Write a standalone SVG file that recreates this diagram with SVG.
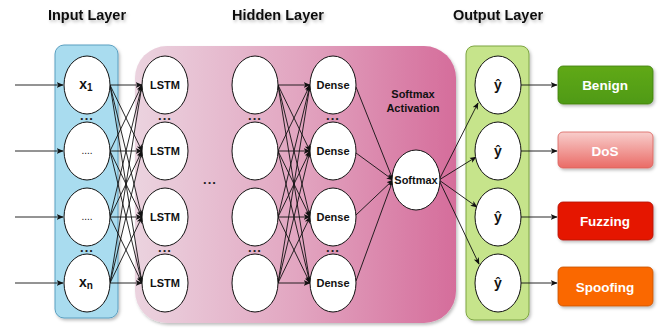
<svg xmlns="http://www.w3.org/2000/svg" width="664" height="329" viewBox="0 0 664 329">
<defs>
<linearGradient id="pinkG" x1="0" y1="0" x2="1" y2="0">
<stop offset="0" stop-color="#ebd3df"/>
<stop offset="0.5" stop-color="#e2a6c1"/>
<stop offset="1" stop-color="#d56d9b"/>
</linearGradient>
<linearGradient id="dosG" x1="0" y1="0" x2="0" y2="1">
<stop offset="0" stop-color="#f8cecc"/>
<stop offset="1" stop-color="#ea6b66"/>
</linearGradient>
<linearGradient id="benG" x1="0" y1="0" x2="0" y2="1">
<stop offset="0" stop-color="#60a917"/>
<stop offset="1" stop-color="#4f9a12"/>
</linearGradient>
<filter id="sh" x="-20%" y="-20%" width="140%" height="140%">
<feDropShadow dx="1.5" dy="2" stdDeviation="1.5" flood-color="#000" flood-opacity="0.25"/>
</filter>
<marker id="ah" viewBox="0 0 10 10" refX="9" refY="5" markerWidth="7" markerHeight="7" orient="auto" markerUnits="userSpaceOnUse">
<path d="M0,1 L10,5 L0,9 L2.5,5 z" fill="#111"/>
</marker>
</defs>
<style>
.title{font-family:"Liberation Sans",Arial,sans-serif;font-weight:bold;font-size:14.5px;fill:#111;text-anchor:middle}
.nd{fill:#fff;stroke:#111;stroke-width:1}
.lbl{font-family:"Liberation Sans",Arial,sans-serif;font-weight:bold;font-size:11px;fill:#111;text-anchor:middle;dominant-baseline:central}
.dots{font-family:"Liberation Sans",Arial,sans-serif;font-weight:bold;font-size:13px;fill:#222;text-anchor:middle;letter-spacing:1px}
.ol{font-family:"Liberation Sans",Arial,sans-serif;font-weight:bold;font-size:13.5px;fill:#fff;text-anchor:middle;dominant-baseline:central}
.c{stroke:#111;stroke-width:0.9;fill:none;marker-end:url(#ah)}
.yh{font-family:"Liberation Sans",Arial,sans-serif;font-weight:bold;font-size:14px;fill:#111;text-anchor:middle;dominant-baseline:central}
</style>

<g id="titles" filter="url(#sh)">
<text class="title" x="87" y="20">Input Layer</text>
<text class="title" x="278" y="20">Hidden Layer</text>
<text class="title" x="498" y="20">Output Layer</text>
</g>

<g id="input-layer-box"><rect x="55" y="45" width="63" height="273" rx="9" fill="#a9dcef" stroke="#5a9fc0" stroke-width="1" filter="url(#sh)"/></g>
<g id="hidden-layer-box"><rect x="135" y="46" width="321" height="277" rx="32" fill="url(#pinkG)" filter="url(#sh)"/></g>
<g id="output-layer-box"><rect x="466" y="46" width="63" height="274" rx="8" fill="#c6e48b" stroke="#7da542" stroke-width="1" filter="url(#sh)"/></g>

<g id="connectors">
<line class="c" x1="15" y1="85" x2="63" y2="85"/>
<line class="c" x1="15" y1="151" x2="63" y2="151"/>
<line class="c" x1="15" y1="217" x2="63" y2="217"/>
<line class="c" x1="15" y1="283" x2="63" y2="283"/>
<line class="c" x1="110" y1="85" x2="142" y2="85"/>
<line class="c" x1="110" y1="85" x2="142" y2="151"/>
<line class="c" x1="110" y1="85" x2="142" y2="217"/>
<line class="c" x1="110" y1="85" x2="142" y2="283"/>
<line class="c" x1="110" y1="151" x2="142" y2="85"/>
<line class="c" x1="110" y1="151" x2="142" y2="151"/>
<line class="c" x1="110" y1="151" x2="142" y2="217"/>
<line class="c" x1="110" y1="151" x2="142" y2="283"/>
<line class="c" x1="110" y1="217" x2="142" y2="85"/>
<line class="c" x1="110" y1="217" x2="142" y2="151"/>
<line class="c" x1="110" y1="217" x2="142" y2="217"/>
<line class="c" x1="110" y1="217" x2="142" y2="283"/>
<line class="c" x1="110" y1="283" x2="142" y2="85"/>
<line class="c" x1="110" y1="283" x2="142" y2="151"/>
<line class="c" x1="110" y1="283" x2="142" y2="217"/>
<line class="c" x1="110" y1="283" x2="142" y2="283"/>
<line class="c" x1="278" y1="85" x2="310" y2="85"/>
<line class="c" x1="278" y1="85" x2="310" y2="151"/>
<line class="c" x1="278" y1="85" x2="310" y2="217"/>
<line class="c" x1="278" y1="85" x2="310" y2="283"/>
<line class="c" x1="278" y1="151" x2="310" y2="85"/>
<line class="c" x1="278" y1="151" x2="310" y2="151"/>
<line class="c" x1="278" y1="151" x2="310" y2="217"/>
<line class="c" x1="278" y1="151" x2="310" y2="283"/>
<line class="c" x1="278" y1="217" x2="310" y2="85"/>
<line class="c" x1="278" y1="217" x2="310" y2="151"/>
<line class="c" x1="278" y1="217" x2="310" y2="217"/>
<line class="c" x1="278" y1="217" x2="310" y2="283"/>
<line class="c" x1="278" y1="283" x2="310" y2="85"/>
<line class="c" x1="278" y1="283" x2="310" y2="151"/>
<line class="c" x1="278" y1="283" x2="310" y2="217"/>
<line class="c" x1="278" y1="283" x2="310" y2="283"/>
<line class="c" x1="356" y1="87" x2="393" y2="180"/>
<line class="c" x1="356" y1="153" x2="393" y2="180"/>
<line class="c" x1="356" y1="215" x2="393" y2="180"/>
<line class="c" x1="356" y1="281" x2="393" y2="180"/>
<line class="c" x1="439" y1="180" x2="478" y2="103"/>
<line class="c" x1="439" y1="180" x2="476" y2="157"/>
<line class="c" x1="439" y1="180" x2="477" y2="207"/>
<line class="c" x1="439" y1="180" x2="479" y2="264"/>
<line class="c" x1="521" y1="85" x2="557" y2="85"/>
<line class="c" x1="521" y1="151" x2="557" y2="151"/>
<line class="c" x1="521" y1="217" x2="557" y2="217"/>
<line class="c" x1="521" y1="283" x2="557" y2="283"/>
</g>

<g id="input-x1"><ellipse class="nd" cx="87" cy="85" rx="23" ry="29"/><text class="lbl" x="86" y="84" style="font-size:14px">x<tspan font-size="10" dy="3">1</tspan></text></g>
<g id="input-2"><ellipse class="nd" cx="87" cy="151" rx="23" ry="29"/><text class="lbl" x="87" y="150" style="font-weight:normal;font-size:10px">....</text></g>
<g id="input-3"><ellipse class="nd" cx="87" cy="217" rx="23" ry="29"/><text class="lbl" x="87" y="216" style="font-weight:normal;font-size:10px">....</text></g>
<g id="input-xn"><ellipse class="nd" cx="87" cy="283" rx="23" ry="29"/><text class="lbl" x="86" y="282" style="font-size:14px">x<tspan font-size="10" dy="3">n</tspan></text></g>
<g id="input-dots"><text class="dots" x="87" y="120">...</text><text class="dots" x="87" y="252">...</text></g>

<g id="lstm-1"><ellipse class="nd" cx="165" cy="85" rx="23" ry="29"/><text class="lbl" x="165" y="85">LSTM</text></g>
<g id="lstm-2"><ellipse class="nd" cx="165" cy="151" rx="23" ry="29"/><text class="lbl" x="165" y="151">LSTM</text></g>
<g id="lstm-3"><ellipse class="nd" cx="165" cy="217" rx="23" ry="29"/><text class="lbl" x="165" y="217">LSTM</text></g>
<g id="lstm-4"><ellipse class="nd" cx="165" cy="283" rx="23" ry="29"/><text class="lbl" x="165" y="283">LSTM</text></g>
<g id="lstm-dots"><text class="dots" x="165" y="120">...</text><text class="dots" x="165" y="252">...</text></g>

<g id="mid-dots"><text class="dots" x="210" y="184">...</text></g>

<g id="hidden-1"><ellipse class="nd" cx="255" cy="85" rx="23" ry="29"/></g>
<g id="hidden-2"><ellipse class="nd" cx="255" cy="151" rx="23" ry="29"/></g>
<g id="hidden-3"><ellipse class="nd" cx="255" cy="217" rx="23" ry="29"/></g>
<g id="hidden-4"><ellipse class="nd" cx="255" cy="283" rx="23" ry="29"/></g>
<g id="hidden-dots"><text class="dots" x="255" y="120">...</text><text class="dots" x="255" y="252">...</text></g>

<g id="dense-1"><ellipse class="nd" cx="333" cy="85" rx="23" ry="29"/><text class="lbl" x="333" y="85">Dense</text></g>
<g id="dense-2"><ellipse class="nd" cx="333" cy="151" rx="23" ry="29"/><text class="lbl" x="333" y="151">Dense</text></g>
<g id="dense-3"><ellipse class="nd" cx="333" cy="217" rx="23" ry="29"/><text class="lbl" x="333" y="217">Dense</text></g>
<g id="dense-4"><ellipse class="nd" cx="333" cy="283" rx="23" ry="29"/><text class="lbl" x="333" y="283">Dense</text></g>
<g id="dense-dots"><text class="dots" x="333" y="120">...</text><text class="dots" x="333" y="252">...</text></g>

<g id="softmax-label"><text class="lbl" x="413" y="94" style="font-size:11px">Softmax</text><text class="lbl" x="413" y="108" style="font-size:11px">Activation</text></g>
<g id="softmax"><ellipse class="nd" cx="416" cy="180" rx="24" ry="30"/><text class="lbl" x="416" y="180">Softmax</text></g>

<g id="out-1"><ellipse class="nd" cx="498" cy="85" rx="23" ry="29"/><text class="yh" x="498" y="85">ŷ</text></g>
<g id="out-2"><ellipse class="nd" cx="498" cy="151" rx="23" ry="29"/><text class="yh" x="498" y="151">ŷ</text></g>
<g id="out-3"><ellipse class="nd" cx="498" cy="217" rx="23" ry="29"/><text class="yh" x="498" y="217">ŷ</text></g>
<g id="out-4"><ellipse class="nd" cx="498" cy="283" rx="23" ry="29"/><text class="yh" x="498" y="283">ŷ</text></g>

<g id="benign"><rect x="558" y="66" width="95" height="38" rx="5" fill="url(#benG)" stroke="#3f7f10" stroke-width="0.8" filter="url(#sh)"/><text class="ol" x="605" y="85">Benign</text></g>
<g id="dos"><rect x="558" y="132" width="95" height="36" rx="5" fill="url(#dosG)" stroke="#d9605c" stroke-width="0.8" filter="url(#sh)"/><text class="ol" x="605" y="151">DoS</text></g>
<g id="fuzzing"><rect x="558" y="202" width="95" height="38" rx="5" fill="#e51400" stroke="#b20f00" stroke-width="0.8" filter="url(#sh)"/><text class="ol" x="605" y="221">Fuzzing</text></g>
<g id="spoofing"><rect x="558" y="267" width="95" height="39" rx="5" fill="#fa6800" stroke="#c75300" stroke-width="0.8" filter="url(#sh)"/><text class="ol" x="605" y="287">Spoofing</text></g>
</svg>
